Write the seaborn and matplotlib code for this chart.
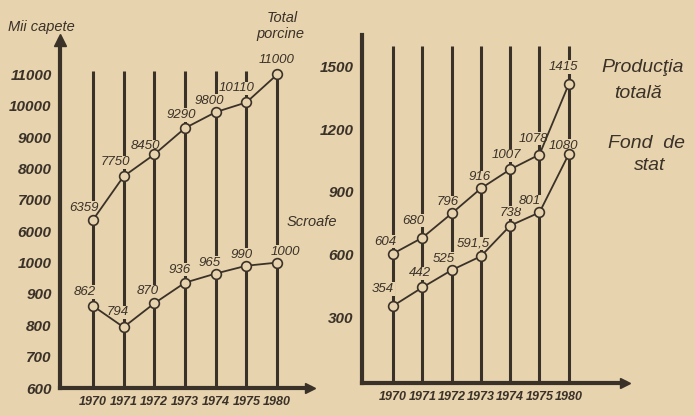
import numpy as np
import pandas as pd
import matplotlib
matplotlib.use("Agg")
import matplotlib.pyplot as plt
import seaborn as sns

# Data
years = ["1970", "1971", "1972", "1973", "1974", "1975", "1980"]
total_porcine = [6359, 7750, 8450, 9290, 9800, 10110, 11000]
scroafe = [862, 794, 870, 936, 965, 990, 1000]
productia_totala = [604, 680, 796, 916, 1007, 1078, 1415]
fond_de_stat = [354, 442, 525, 591.5, 738, 801, 1080]

left_ticks = [600, 700, 800, 900, 1000, 6000, 7000, 8000, 9000, 10000, 11000]
right_ticks = [300, 600, 900, 1200, 1500]

bg = "#e7d3ad"
ink = "#3a3128"

sns.set_style("white")
plt.rcParams["font.family"] = ["Liberation Sans", "DejaVu Sans"]
plt.rcParams["figure.facecolor"] = bg
plt.rcParams["axes.facecolor"] = bg


# broken y axis on the left panel: 600-1000 in steps of 100, then 6000-11000 in steps of 1000
def fwd(v):
    v = np.asarray(v, dtype=float)
    return np.where(v <= 1000, (v - 600) / 100,
                    np.where(v <= 6000, 4 + (v - 1000) / 5000, 5 + (v - 6000) / 1000))


def inv(p):
    p = np.asarray(p, dtype=float)
    return np.where(p <= 4, 600 + 100 * p,
                    np.where(p <= 5, 1000 + 5000 * (p - 4), 6000 + 1000 * (p - 5)))


def fmt(v):
    return f"{v:g}".replace(".", ",")


W, H = 695, 416
fig = plt.figure(figsize=(W / 100, H / 100), dpi=100)
ax1 = fig.add_axes([60 / W, (H - 388) / H, 250 / W, 348 / H])
ax2 = fig.add_axes([362 / W, (H - 383) / H, 263 / W, 348 / H])

pos = np.arange(len(years))
tick_font = dict(fontstyle="italic", fontweight="bold", color=ink)
text_font = dict(fontstyle="italic", color=ink)
label_box = dict(boxstyle="square,pad=0.05", facecolor=bg, edgecolor="none")


def style_axes(ax):
    for side in ["top", "right"]:
        ax.spines[side].set_visible(False)
    for side in ["left", "bottom"]:
        ax.spines[side].set_color(ink)
        ax.spines[side].set_linewidth(3)
    ax.set_xticks(pos)
    ax.set_xticklabels(years, fontsize=9, **tick_font)
    ax.tick_params(axis="x", length=0, pad=6)
    ax.tick_params(axis="y", length=4, width=1.2, color=ink, pad=2)
    ax.plot(1.0, 0, marker=">", ms=7, color=ink, transform=ax.transAxes, clip_on=False)


def draw_series(ax, values, offsets):
    df = pd.DataFrame({"pos": pos, "val": values})
    sns.lineplot(data=df, x="pos", y="val", ax=ax, color=ink, lw=1.3, marker="o",
                 markersize=7, markerfacecolor=bg, markeredgecolor=ink, markeredgewidth=1.2,
                 zorder=4)
    for x, v, off in zip(pos, values, offsets):
        # labels sit over the vertical year lines but under the series lines
        ax.annotate(fmt(v), (x, v), xytext=off, textcoords="offset pixels",
                    ha="center", va="center", fontsize=9.5, zorder=3, bbox=label_box,
                    **text_font)


# ---- left panel: livestock ----
ax1.set_yscale("function", functions=(fwd, inv))
ax1.set_xlim(-1.07, 7.07)
ax1.set_ylim(600, 12100)
ax1.vlines(pos, 600, 11100, color=ink, lw=2.2, zorder=1)
draw_series(ax1, total_porcine, [(-9, 12), (-8, 14), (-9, 8), (-4, 13), (-6, 11), (-10, 14), (-1, 14)])
draw_series(ax1, scroafe, [(-8, 14), (-6, 15), (-7, 12), (-5, 13), (-6, 11), (-5, 11), (8, 11)])
ax1.set_yticks(left_ticks)
ax1.set_yticklabels([str(t) for t in left_ticks], fontsize=11, **tick_font)
ax1.minorticks_off()
ax1.set_xlabel("")
ax1.set_ylabel("")
style_axes(ax1)
ax1.plot(0, 1.0, marker="^", ms=8, color=ink, transform=ax1.transAxes, clip_on=False)
fig.text(8 / W, 1 - 27 / H, "Mii capete", fontsize=10.5, va="center", **text_font)
fig.text(282 / W, 1 - 18 / H, "Total", fontsize=10.5, ha="center", va="center", **text_font)
fig.text(280 / W, 1 - 34 / H, "porcine", fontsize=10.5, ha="center", va="center", **text_font)
fig.text(312 / W, 1 - 222 / H, "Scroafe", fontsize=10.5, ha="center", va="center", **text_font)

# ---- right panel: production ----
ax2.set_xlim(-1.06, 7.92)
ax2.set_ylim(-15, 1650)
ax2.vlines(pos, -15, 1597, color=ink, lw=2.2, zorder=1)
draw_series(ax2, productia_totala, [(-8, 12), (-9, 17), (-4, 11), (-1, 11), (-4, 14), (-6, 16), (-5, 17)])
draw_series(ax2, fond_de_stat, [(-10, 17), (-2, 14), (-8, 11), (-8, 13), (0, 13), (-10, 11), (-5, 8)])
ax2.set_yticks(right_ticks)
ax2.set_yticklabels([str(t) for t in right_ticks], fontsize=11, **tick_font)
ax2.set_xlabel("")
ax2.set_ylabel("")
style_axes(ax2)
fig.text(643 / W, 1 - 68 / H, "Producţia", fontsize=14, ha="center", va="center", **text_font)
fig.text(638 / W, 1 - 93 / H, "totală", fontsize=14, ha="center", va="center", **text_font)
fig.text(647 / W, 1 - 143 / H, "Fond  de", fontsize=14, ha="center", va="center", **text_font)
fig.text(650 / W, 1 - 166 / H, "stat", fontsize=14, ha="center", va="center", **text_font)

fig.savefig("out.png", dpi=100, facecolor=bg)
